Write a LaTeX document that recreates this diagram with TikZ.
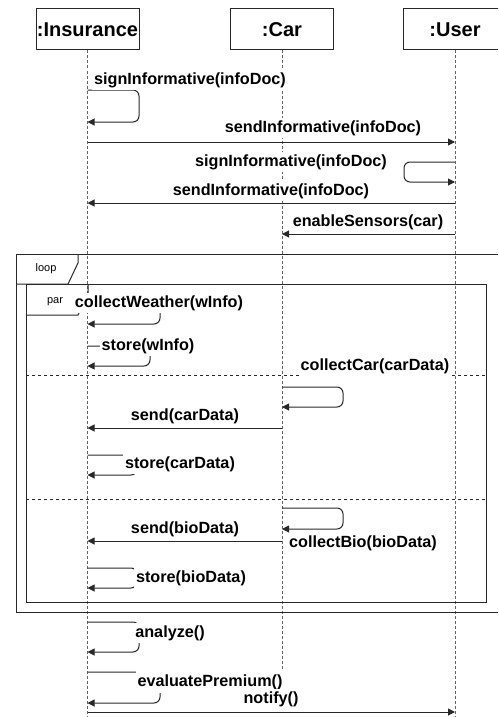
\documentclass[tikz,border=0pt]{standalone}
\usepackage{fontspec}
\setmainfont{Liberation Sans}
\usetikzlibrary{arrows.meta,positioning,calc}
\definecolor{linecolor}{RGB}{40, 40, 40}
\definecolor{lifecolor}{RGB}{100, 100, 100}

\begin{document}
\begin{tikzpicture}[x=1pt, y=-1pt,
    head/.style={rectangle, draw=linecolor, line width=1pt, minimum width=103pt, minimum height=41pt, inner sep=0pt, font=\fontsize{20}{22}\selectfont\bfseries},
    life/.style={draw=lifecolor, line width=0.9pt, dash pattern=on 3pt off 2pt},
    msg/.style={draw=linecolor, line width=1pt, -{Triangle[length=7pt, width=7pt]}},
    selfmsg/.style={msg, rounded corners=6pt},
    lbl/.style={fill=white, inner sep=2pt, font=\fontsize{16.2}{18}\selectfont\bfseries},
    frame/.style={draw=linecolor, line width=1pt},
    tag/.style={inner sep=0pt, font=\fontsize{11}{13}\selectfont}
]
    \clip (0,0) rectangle (498,717);

    % Objects and lifelines
    \node[head] (ins) at (87.5, 29.5) {:Insurance};
    \node[head] (car) at (282, 29.5) {:Car};
    \node[head] (usr) at (455, 29.5) {:User};
    \coordinate (insend) at (87.5, 717);
    \coordinate (carend) at (282, 671);
    \coordinate (usrend) at (455, 717);
    \draw[life] (ins) -- (insend);
    \draw[life] (car) -- (carend);
    \draw[life] (usr) -- (usrend);

    % Loop and par frames
    \draw[frame] (16, 254) rectangle (506, 612);
    \draw[frame] (16, 284) -- (68, 284) -- (78, 263) -- (78, 254);
    \node[tag] (looptag) at (46, 269) {loop};
    \draw[frame] (26, 284) rectangle (486, 602);
    \draw[frame] (26, 315) -- (78, 315) -- (88, 296) -- (88, 284);
    \node[tag] (partag) at (55, 302) {par};
    \draw[frame, dashed] (26, 375) -- (486, 375);
    \draw[frame, dashed] (26, 499) -- (486, 499);

    % Message rows
    \coordinate (signA) at (0, 90);
    \coordinate (sendA) at (0, 142);
    \coordinate (signB) at (0, 162);
    \coordinate (sendB) at (0, 203);
    \coordinate (enable) at (0, 234);
    \coordinate (weather) at (0, 306);
    \coordinate (storeW) at (0, 346);
    \coordinate (carcol) at (0, 387);
    \coordinate (sendcar) at (0, 428);
    \coordinate (storeC) at (0, 455);
    \coordinate (biocol) at (0, 508);
    \coordinate (sendbio) at (0, 541);
    \coordinate (storeB) at (0, 568);
    \coordinate (analyse) at (0, 622);
    \coordinate (premium) at (0, 672);
    \coordinate (notif) at (0, 712);

    % Set-up messages
    \draw[selfmsg] (ins |- signA) -- ++(51.5, 0) -- ++(0, 32) -- ++(-51.5, 0);
    \draw[msg] (ins |- sendA) -- (usr |- sendA);
    \draw[selfmsg] (usr |- signB) -- ++(-51, 0) -- ++(0, 20) -- ++(51, 0);
    \draw[msg] (usr |- sendB) -- (ins |- sendB);
    \draw[msg] (usr |- enable) -- (car |- enable);

    % Inside the par frame
    \draw[selfmsg] (ins |- weather) -- ++(72.5, 0) -- ++(0, 18) -- ++(-72.5, 0);
    \draw[selfmsg] (ins |- storeW) -- ++(62.5, 0) -- ++(0, 20) -- ++(-62.5, 0);
    \draw[selfmsg] (car |- carcol) -- ++(61, 0) -- ++(0, 20) -- ++(-61, 0);
    \draw[msg] (car |- sendcar) -- (ins |- sendcar);
    \draw[selfmsg] (ins |- storeC) -- ++(49.5, 0) -- ++(0, 20) -- ++(-49.5, 0);
    \draw[selfmsg] (car |- biocol) -- ++(61, 0) -- ++(0, 21) -- ++(-61, 0);
    \draw[msg] (car |- sendbio) -- (ins |- sendbio);
    \draw[selfmsg] (ins |- storeB) -- ++(49.5, 0) -- ++(0, 20) -- ++(-49.5, 0);

    % After the loop
    \draw[selfmsg] (ins |- analyse) -- ++(51.5, 0) -- ++(0, 30) -- ++(-51.5, 0);
    \draw[selfmsg] (ins |- premium) -- ++(72.5, 0) -- ++(0, 31) -- ++(-72.5, 0);
    \draw[msg] (ins |- notif) -- (usr |- notif);

    % Labels
    \node[lbl] (lsignA) at (190, 80) {signInformative(infoDoc)};
    \node[lbl] (lsendA) at (323, 128) {sendInformative(infoDoc)};
    \node[lbl] (lsignB) at (291, 162) {signInformative(infoDoc)};
    \node[lbl] (lsendB) at (271, 191) {sendInformative(infoDoc)};
    \node[lbl] (lenable) at (368, 222) {enableSensors(car)};
    \node[lbl] (lweather) at (159, 303) {collectWeather(wInfo)};
    \node[lbl] (lstoreW) at (148, 346) {store(wInfo)};
    \node[lbl] (lcarcol) at (375, 366) {collectCar(carData)};
    \node[lbl] (lsendcar) at (185, 416) {send(carData)};
    \node[lbl] (lstoreC) at (180, 464) {store(carData)};
    \node[lbl] (lsendbio) at (185, 529) {send(bioData)};
    \node[lbl] (lbiocol) at (363, 543) {collectBio(bioData)};
    \node[lbl] (lstoreB) at (191, 578) {store(bioData)};
    \node[lbl] (lanalyse) at (170, 633) {analyze()};
    \node[lbl, inner ysep=3.5pt] (lpremium) at (210, 682) {evaluatePremium()};
    \node[lbl] (lnotif) at (271, 699) {notify()};
\end{tikzpicture}
\end{document}
